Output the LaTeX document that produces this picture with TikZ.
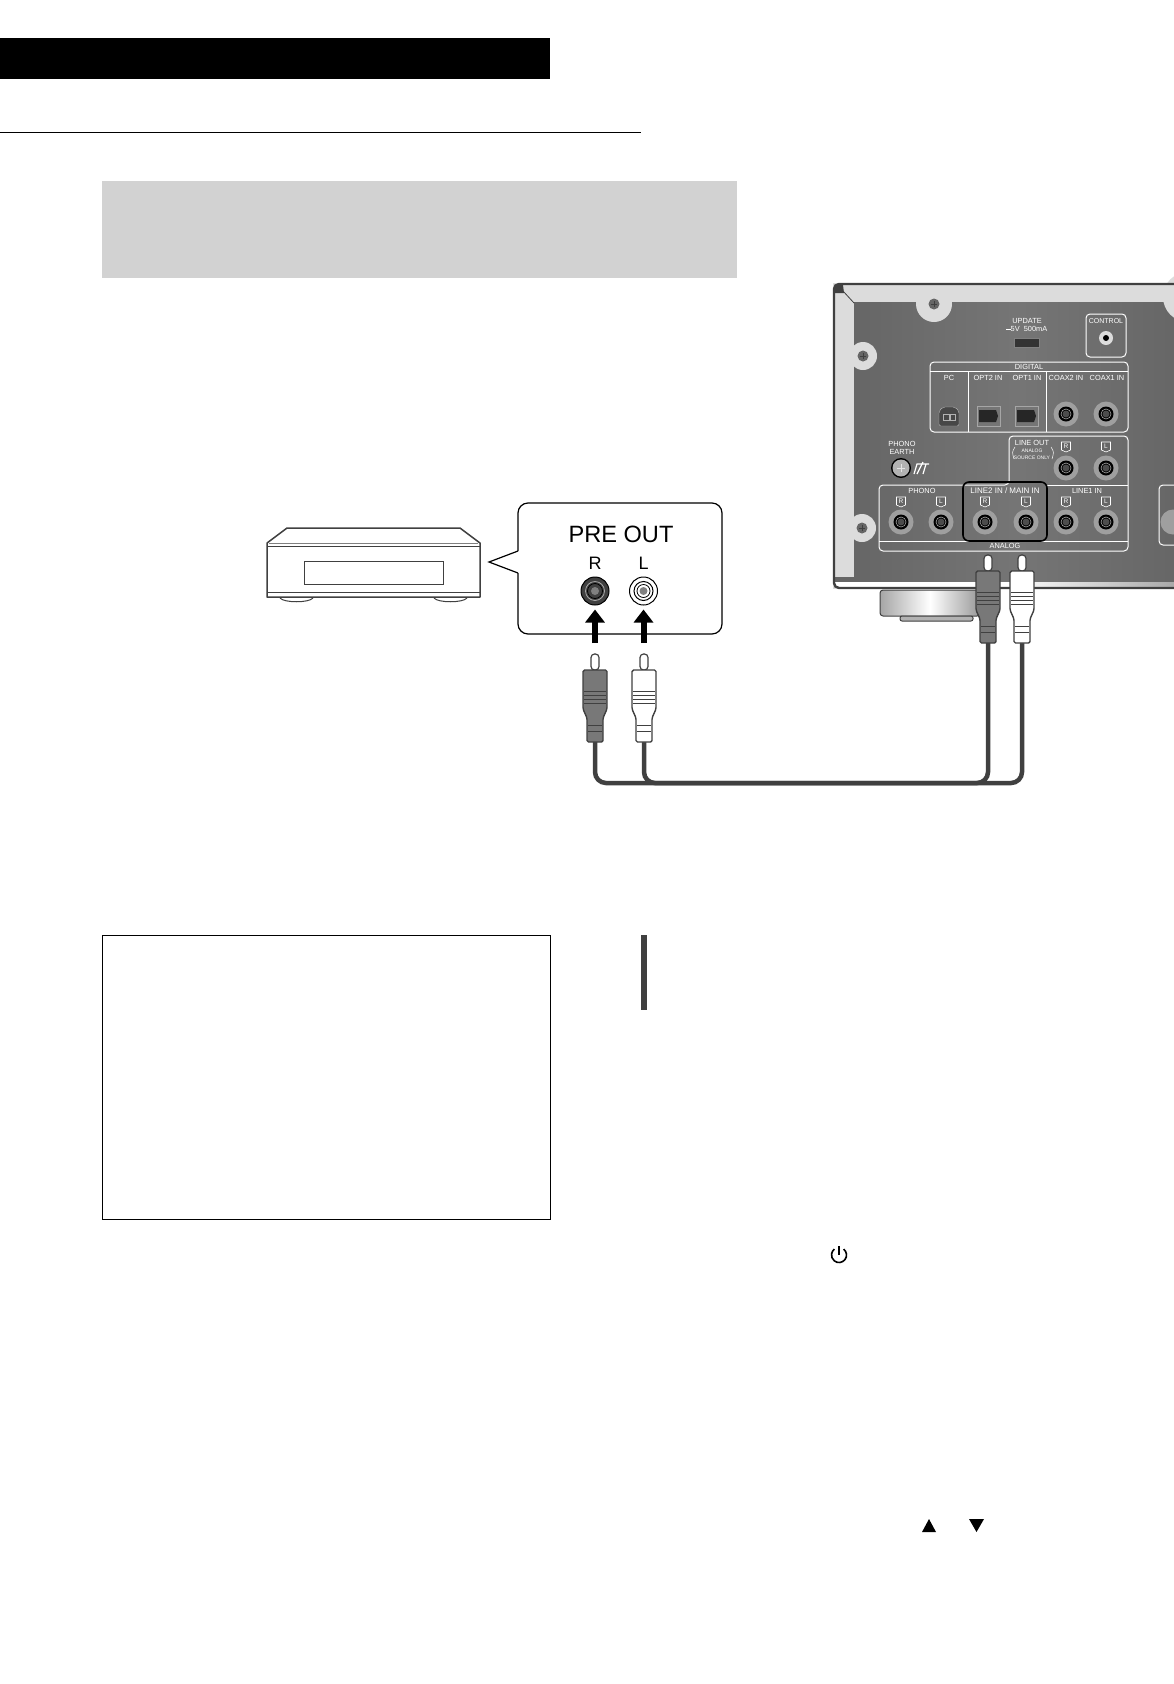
\documentclass[tikz,border=0pt]{standalone}
\usepackage{fontspec}
\setmainfont{Liberation Sans}
\usetikzlibrary{arrows.meta}
\definecolor{panelgray}{HTML}{666666}
\definecolor{framegray}{HTML}{DCDCDC}
\definecolor{linegray}{HTML}{404040}
\definecolor{bandgray}{HTML}{D2D2D2}
\definecolor{plugdark}{HTML}{787878}
\newcommand{\paneltext}[2]{\fontsize{#1}{#2}\selectfont}
\newcommand{\jacktag}[3]{%
    \draw[white, line width=0.6pt, fill=panelgray] (#1-4.5,#2-5) -- (#1+4.5,#2-5) -- (#1+4.5,#2+3) -- (#1,#2+5) -- (#1-4.5,#2+3) -- cycle;
    \node[white, font=\paneltext{6.5}{7}, inner sep=0pt] (tag#1x#2) at (#1,#2-0.5) {#3};
}
\newcommand{\rcaplug}[4]{%
    % #1 centre x, #2 tip top y, #3 body fill, #4 band colour
    \filldraw[fill=white, draw=linegray, line width=1.2pt, rounded corners=3.5pt] (#1-4,#2+16) -- (#1-4,#2) -- (#1+4,#2) -- (#1+4,#2+16) -- cycle;
    \filldraw[fill=#3, draw=linegray, line width=1.4pt, rounded corners=1.5pt] (#1-12,#2+16) -- (#1+12,#2+16) -- (#1+12,#2+55) -- (#1+8,#2+64) -- (#1+8,#2+88) -- (#1-8,#2+88) -- (#1-8,#2+64) -- (#1-12,#2+55) -- cycle;
    \foreach \dy in {37,41,45,49} {
        \draw[#4, line width=0.6pt] (#1-11,#2+\dy) -- (#1+11,#2+\dy);
    }
    \foreach \dy in {71,77} {
        \draw[#4, line width=0.6pt] (#1-7,#2+\dy) -- (#1+7,#2+\dy);
    }
}

\begin{document}
\begin{tikzpicture}[x=1pt, y=-1pt,
    cable/.style={draw=linegray, line width=4.5pt, rounded corners=11pt},
    bigarrow/.style={-{Triangle[width=19pt,length=13pt]}, line width=6pt},
    thinbox/.style={draw=white, line width=1pt, rounded corners=4pt},
    lbl/.style={white, font=\paneltext{7.4}{9}, inner sep=0pt}]
    \clip (0,0) rectangle (1174,1684);
    % Page furniture
    \fill[black] (0,38) rectangle (550,79);
    \draw[black, line width=0.6pt] (0,132) -- (641,132);
    \fill[bandgray] (102,180.5) rectangle (737,278);
    \draw[black, line width=0.6pt] (102.4,935) rectangle (550.6,1219);
    \fill[linegray] (641,935) rectangle (647,1010);
    % Power symbol
    \draw[black, line width=1.6pt] (839,1255) ++(-52:7.5) arc[start angle=-52, end angle=232, radius=7.5];
    \draw[black, line width=1.6pt] (839,1246) -- (839,1255);
    % Triangles
    \fill[black] (929,1519) -- (936,1532) -- (922,1532) -- cycle;
    \fill[black] (969,1519) -- (984,1519) -- (976.5,1532) -- cycle;

    % Source unit
    \draw[linegray, line width=1.5pt, line join=round, fill=white] (267,543) -- (287,528) -- (460,528) -- (480,543) -- (480,597) -- (267,597) -- cycle;
    \draw[linegray, line width=1pt] (267,546) -- (480,546);
    \draw[gray, line width=1pt] (269,543) -- (478,543);
    \draw[linegray, line width=1pt] (267,592) -- (480,592);
    \draw[linegray, line width=0.8pt] (304,561) rectangle (443,584);
    \foreach \xa/\xb in {280/313, 434/467} {
        \draw[linegray, line width=1pt] (\xa,598) .. controls (\xa+4,603) and (\xb-4,603) .. (\xb,598);
    }

    % Callout
    \draw[black, line width=1.2pt, rounded corners=10pt] (518,551) -- (518,503) -- (722,503) -- (722,634) -- (518,634) -- (518,573);
    \draw[black, line width=1.2pt] (518,551) -- (489,562) -- (518,573);
    \node[font=\fontsize{23.6}{26}\selectfont, inner sep=0pt] (preout) at (621,534.5) {PRE OUT};
    \node[font=\fontsize{18}{20}\selectfont, inner sep=0pt] (preR) at (595,563) {R};
    \node[font=\fontsize{18}{20}\selectfont, inner sep=0pt] (preL) at (643.5,563) {L};
    % Output jacks
    \node[circle, fill=linegray, draw=black, line width=1pt, minimum size=28pt, inner sep=0pt] (jackR) at (595,591) {};
    \node[circle, fill=white, draw=black, line width=1pt, minimum size=28pt, inner sep=0pt] (jackL) at (643.5,591) {};
    \draw[gray!60, line width=0.7pt] (jackR) circle (9.5);
    \draw[black, line width=0.8pt] (jackR) circle (7.5);
    \fill[gray] (jackR) circle (4);
    \draw[black, line width=1pt] (jackL) circle (9.5);
    \draw[black, line width=0.8pt] (jackL) circle (6.5);
    \fill[gray] (jackL) circle (4);
    \coordinate (arrowR) at (595,643);
    \coordinate (arrowL) at (643.5,643);
    \draw[bigarrow, shorten >=4pt] (arrowR) -- (jackR);
    \draw[bigarrow, shorten >=4pt] (arrowL) -- (jackL);

    % Amplifier case
    \fill[framegray] (833,283) rectangle (1180,589);
    % Panel
    \shade[left color=panelgray, right color=panelgray, middle color=panelgray!90!white] (854,302) rectangle (1180,582);
    \fill[panelgray] (835,577) rectangle (854,582);
    \fill[framegray] (1188,297) circle (25);
    \shade[left color=white, right color=gray!70, middle color=white] (835,582) rectangle (1180,587);
    \fill[linegray] (835,285) -- (843,285) -- (844,293) -- (835,293) -- cycle;
    \draw[linegray, line width=0.8pt] (843,291) -- (854,303);
    \draw[linegray, line width=2.4pt, rounded corners=5pt] (1180,284) -- (834,284) -- (834,588) -- (1180,588);
    % Screws
    \foreach \sx/\sy/\sr in {934/304/18, 863/356/14, 862/528/14} {
        \fill[framegray] (\sx,\sy) circle (\sr);
        \fill[gray!80!black] (\sx,\sy) circle (5.5);
        \draw[linegray, line width=0.8pt] (\sx-3,\sy) -- (\sx+3,\sy) (\sx,\sy-3) -- (\sx,\sy+3);
    }
    % USB and control
    \node[lbl] (update) at (1027,321) {UPDATE};
    \node[lbl] (rating) at (1029,329) {5V\ \ 500mA};
    \draw[white, line width=1pt] (1006,329.5) -- (1011,329.5);
    \filldraw[fill=black!80, draw=gray] (1014,338) rectangle (1039,347);
    \draw[thinbox] (1086,314) rectangle (1126,357);
    \node[lbl, font=\paneltext{7}{9}] (control) at (1106,321) {CONTROL};
    \fill[framegray] (1106,338) circle (7);
    \fill[black] (1106,338) circle (3);
    % Digital block
    \draw[thinbox] (930,362) rectangle (1128,432);
    \draw[white, line width=1pt] (930,371) -- (1128,371) (968,371) -- (968,432) (1046,371) -- (1046,432);
    \node[lbl] (digital) at (1029,367) {DIGITAL};
    \foreach \lx/\ltxt in {949/PC, 988/OPT2 IN, 1027/OPT1 IN, 1066/COAX2 IN, 1107/COAX1 IN} {
        \node[lbl] (d\lx) at (\lx,378) {\ltxt};
    }
    \filldraw[fill=panelgray!70!black, draw=gray!60, rounded corners=2pt] (939,426) -- (939,411) -- (943,407) -- (955,407) -- (959,411) -- (959,426) -- cycle;
    \draw[gray!60, line width=0.7pt] (943,414) rectangle (949,420) (950,414) rectangle (955,420);
    \foreach \ox in {977,1015} {
        \draw[gray!70, line width=0.8pt, fill=panelgray!90!white] (\ox,406) rectangle (\ox+23,426);
        \fill[black!85] (\ox+2,410) -- (\ox+19,410) -- (\ox+21,416) -- (\ox+19,422) -- (\ox+2,422) -- cycle;
    }
    % Coaxial and analog jacks
    \draw[thinbox] (1009,485) -- (1009,436) -- (1128,436) -- (1128,551) -- (879,551) -- (879,485) -- cycle;
    \draw[white, line width=1pt] (879,541) -- (1128,541) (1047,485) -- (1128,485);
    \draw[thinbox] (1180,545) -- (1159,545) -- (1159,485) -- (1180,485);
    \node[lbl] (lineout) at (1032,443) {LINE OUT};
    \node[lbl, font=\paneltext{5}{7}] (lineanalog) at (1032,451) {ANALOG};
    \node[lbl, font=\paneltext{5}{7}] (linesource) at (1032,458) {SOURCE ONLY};
    \draw[white, line width=0.5pt] (1015,447) .. controls (1012,452) .. (1014,459);
    \draw[white, line width=0.5pt] (1051,447) .. controls (1054,452) .. (1052,459);
    \node[lbl, align=center] (phonoearth) at (902,448) {PHONO\\[-1pt]EARTH};
    \fill[black] (901,468) circle (10);
    \fill[gray!60] (901,468) circle (8.5);
    \draw[gray!20, line width=0.8pt] (897,468) -- (905,468) (901,464) -- (901,472);
    \draw[white, line width=1.2pt] (914,474) -- (917,464) -- (929,464) (917,474) -- (923,462) (923,474) -- (926,464);
    \node[lbl] (phono) at (922,491) {PHONO};
    \node[lbl] (line1) at (1087,491) {LINE1 IN};
    \node[lbl] (analog) at (1005,546) {ANALOG};
    % Jack tags
    \foreach \tx/\ty/\tagtxt in {1066/447/R, 1106/447/L, 901/502/R, 941/502/L, 985/502/R, 1026/502/L, 1066/502/R, 1106/502/L} {
        \jacktag{\tx}{\ty}{\tagtxt}
    }
    % Panel jacks
    \foreach \jx/\jy in {1066/414, 1106/414, 1066/468, 1106/468, 901/522, 941/522, 985/522, 1026/522, 1066/522, 1106/522} {
        \fill[gray!75] (\jx,\jy) circle (12.5);
        \fill[black] (\jx,\jy) circle (7.5);
        \draw[gray!70, line width=0.6pt] (\jx,\jy) circle (5);
        \fill[gray!60!black] (\jx,\jy) circle (3.5);
    }
    \fill[gray!75] (1173,522) circle (12.5);
    % Highlight
    \draw[black, line width=1.6pt, rounded corners=6pt] (963,482) rectangle (1047,541);
    \node[lbl, font=\paneltext{8}{9}] (line2) at (1005,491) {LINE2 IN / MAIN IN};
    % Knob
    \shade[left color=gray!70, right color=gray!80, middle color=white, draw=linegray, line width=1pt, rounded corners=3pt] (880,590) -- (880,616) -- (980,616) -- (980,590) -- cycle;
    \filldraw[fill=gray!60, draw=linegray, line width=1pt, rounded corners=2pt] (900,616) -- (900,621) -- (973,621) -- (973,616) -- cycle;

    % Cables
    \coordinate (plugRout) at (595,740);
    \coordinate (plugLout) at (644,740);
    \coordinate (ampRout) at (988,640);
    \coordinate (ampLout) at (1022,640);
    \coordinate (cablerun) at (0,783);
    \draw[cable] (plugRout) -- (plugRout |- cablerun) -- (ampLout |- cablerun) -- (ampLout);
    \draw[cable] (plugLout) -- (plugLout |- cablerun) -- (ampRout |- cablerun) -- (ampRout);
    % Plugs
    \rcaplug{595}{654}{plugdark}{linegray}
    \rcaplug{644}{654}{white}{linegray}
    \rcaplug{988}{555}{plugdark}{linegray}
    \rcaplug{1022}{555}{white}{linegray}
\end{tikzpicture}
\end{document}
